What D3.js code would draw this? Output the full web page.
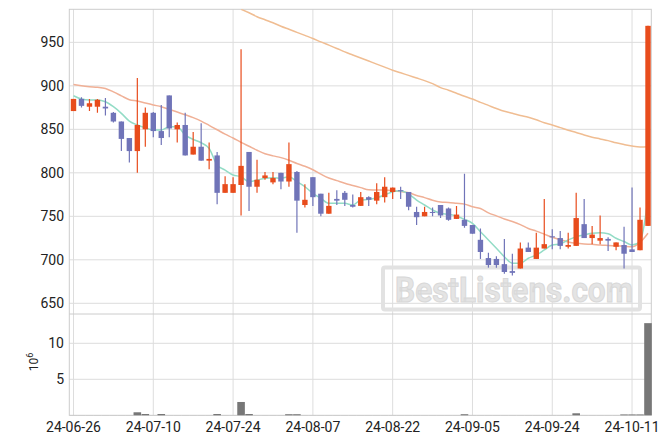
<!DOCTYPE html>
<html><head><meta charset="utf-8">
<script src="https://cdn.jsdelivr.net/npm/d3@7"></script>
<style>body{margin:0;background:#fff;}svg{display:block;font-family:Roboto,"Noto Sans",sans-serif;}</style>
</head><body>
<svg id="c" width="670" height="444"></svg>
<script>
const dates = ["24-06-26","24-06-27","24-06-28","24-07-01","24-07-02","24-07-03","24-07-04","24-07-05","24-07-08","24-07-09",
"24-07-10","24-07-11","24-07-12","24-07-15","24-07-16","24-07-17","24-07-18","24-07-19","24-07-22","24-07-23",
"24-07-24","24-07-25","24-07-26","24-07-29","24-07-30","24-07-31","24-08-01","24-08-02","24-08-05","24-08-06",
"24-08-07","24-08-08","24-08-09","24-08-12","24-08-13","24-08-14","24-08-16","24-08-19","24-08-20","24-08-21",
"24-08-22","24-08-23","24-08-26","24-08-27","24-08-28","24-08-29","24-08-30","24-09-02","24-09-03","24-09-04",
"24-09-05","24-09-06","24-09-09","24-09-10","24-09-11","24-09-12","24-09-13","24-09-19","24-09-20","24-09-23",
"24-09-24","24-09-25","24-09-26","24-09-27","24-09-30","24-10-02","24-10-04","24-10-07","24-10-08","24-10-10",
"24-10-11","24-10-14","24-10-15"];
const open  = [871,885,876,876,876,869,859,840,825,850, 869,848,889,850,855,821,830,814,820,777, 777,786,824,784,794,789,800,790,801,763,
 795,776,753,770,777,763,762,772,768,772, 778,780,778,755,750,755,763,759,747,746, 740,723,702,701,695,687,690,714,701,713,
 727,725,715,716,741,725,722,724,715,717, 712,711,739];
const high  = [885,887,885,885,886,870,859,840,909,875, 870,878,889,858,869,847,857,835,824,796, 795,942,824,815,801,801,800,835,802,787,
 795,776,777,780,779,775,778,773,788,795, 783,784,778,761,761,760,763,760,762,799, 740,736,708,704,724,707,720,720,731,770,
 735,733,731,777,770,739,751,726,720,738, 783,760,969];
const low   = [871,875,871,869,866,858,825,812,800,830, 841,832,841,835,820,821,814,804,764,777, 777,751,756,777,792,787,781,784,731,760,
 762,750,753,763,762,760,762,762,764,766, 770,770,757,740,750,750,748,745,747,737, 730,701,691,691,684,682,690,709,701,713,
 712,712,713,716,725,718,718,710,711,690, 709,711,739];
const close = [885,877,880,884,874,859,839,825,855,869, 848,840,851,855,820,830,814,816,777,787, 787,808,784,792,797,794,790,810,768,769,
 772,753,762,768,769,761,772,769,778,784, 783,779,761,749,755,754,751,746,752,739, 730,709,694,694,686,685,713,709,714,718,
 726,716,717,748,725,729,725,722,720,707, 709,746,969];
const volume = [0.01,0.01,0.01,0.01,0.01,0.01,0.01,0.01,0.42,0.18, 0.01,0.18,0.01,0.01,0.01,0.01,0.01,0.01,0.18,0.01,
 0.01,1.85,0.18,0.01,0.01,0.01,0.01,0.15,0.15,0.01, 0.01,0.01,0.01,0.01,0.01,0.01,0.01,0.01,0.01,0.01,
 0.01,0.01,0.01,0.01,0.01,0.01,0.01,0.01,0.01,0.15, 0.01,0.01,0.01,0.01,0.01,0.01,0.01,0.01,0.01,0.01,
 0.01,0.01,0.01,0.28,0.01,0.01,0.01,0.01,0.01,0.12, 0.12,0.12,12.8];
const maShort = [888.6,884.8,883.7,883.7,881.7,876,868.4,859.5,855,851.8, 849.2,849.2,853,853,843.4,838.5,834.6,828,809,803.2,
 797.5,795.5,789.8,791.7,793.7,794.4,793.7,795.5,789.8,784, 776.4,770.7,764.9,764.9,764.9,763,768.7,769.5,771.4,774.5,
 778.3,779.4,775.6,768.7,763,757.3,753.4,752.3,750.3,746.5, 741.9,732.3,722.8,713.2,703.5,696,696,701.8,705.5,711.3,
 717,718.2,722.8,726.6,728.5,730.5,731,730,724.8,721, 717,721,770.7];
const maMid = [901.5,900,899,898.3,897,893,888.5,884,882.5,880.2, 878,876,873,870,866.8,863.5,859.5,854.5,849.5,844.5,
 840,835,830.5,826,822,819.5,817.5,814.5,810.8,807.5, 803.5,798.5,794,791,788,785.5,783,780.5,780.2,780.2,
 779.5,778.5,777,774,771.5,768.5,766.5,766,765,764, 761,759,754,750.5,747,744,740.5,736,733,729.5,
 726,723,720.5,719,718.2,717.8,717,716.5,716,715.5, 715,720,730.5];
const maLong = [null,null,null,null,null,null,null,null,null,null, null,null,null,null,null,null,null,null,null,null,
 null,988,984,979.5,976,972.5,968.5,965,961.5,958, 954.5,950.5,946.8,943,939,935.5,932,928.5,925,921.5,
 918,915,912,909,906,902.5,898,895,891.5,888, 884.8,881,877.5,874,870.8,868.5,866,864,861,857.5,
 855,852,849,846.3,843.5,841,839,837,834.5,832.5, 830.8,829.8,830];
const priceTicks = [650,700,750,800,850,900,950];
const volTicks = [5,10];
const xTickLabels = ["24-06-26","24-07-10","24-07-24","24-08-07","24-08-22","24-09-05","24-09-24","24-10-11"];

const svg = d3.select("#c");
const L = 69.3, R = 651.3, T = 9.3, MID = 314, B = 415.3;
const x = d3.scalePoint().domain(dates).range([73.5, 648]);
const y = d3.scaleLinear().domain([637.7, 988]).range([MID, T]);
const yv = d3.scaleLinear().domain([0, 14.07]).range([B, MID]);
const grid = "#dddddd", spine = "#cccccc";
const UP = "#e84c1c", DOWN = "#7074b8";

svg.append("defs").append("clipPath").attr("id","cp").append("rect")
  .attr("x",L).attr("y",T).attr("width",R-L).attr("height",MID-T);

// grids
const g = svg.append("g");
g.selectAll(".hg").data(priceTicks).join("line")
  .attr("x1",L).attr("x2",R).attr("y1",d=>y(d)).attr("y2",d=>y(d)).attr("stroke",grid);
g.selectAll(".vg").data(volTicks).join("line")
  .attr("x1",L).attr("x2",R).attr("y1",d=>yv(d)).attr("y2",d=>yv(d)).attr("stroke",grid);
g.selectAll(".xg").data(xTickLabels).join("line")
  .attr("x1",d=>x(d)).attr("x2",d=>x(d)).attr("y1",T).attr("y2",B).attr("stroke",grid);

// watermark
const wm = svg.append("g");
wm.append("rect").attr("x",383).attr("y",267.5).attr("width",257).attr("height",42).attr("rx",2)
  .attr("fill","none").attr("stroke","#e2e2e2").attr("stroke-width",4);
wm.append("text").attr("x",395).attr("y",302).attr("font-size",35).attr("font-weight","bold")
  .attr("textLength",238).attr("lengthAdjust","spacingAndGlyphs")
  .attr("fill","#e4e4e4").attr("stroke","#d8d8d8").attr("stroke-width",1).text("BestListens.com");

// spines
const sp = svg.append("g").attr("stroke",spine).attr("fill","none");
sp.append("rect").attr("x",L).attr("y",T).attr("width",R-L).attr("height",B-T);
sp.append("line").attr("x1",L).attr("x2",R).attr("y1",MID).attr("y2",MID);

// price panel
const pp = svg.append("g").attr("clip-path","url(#cp)");
const line = d3.line().defined(d=>d.v!=null).x(d=>x(d.d)).y(d=>y(d.v)).curve(d3.curveMonotoneX);
const mk = arr => arr.map((v,i)=>({d:dates[i], v}));
pp.append("path").attr("d",line(mk(maLong))).attr("fill","none").attr("stroke","#f0bd92").attr("stroke-width",1.5);
pp.append("path").attr("d",line(mk(maMid))).attr("fill","none").attr("stroke","#f0b096").attr("stroke-width",1.5);
pp.append("path").attr("d",line(mk(maShort))).attr("fill","none").attr("stroke","#93dcc6").attr("stroke-width",1.5);

const candles = dates.map((d,i)=>({d,o:open[i],h:high[i],l:low[i],c:close[i]}));
const cg = pp.selectAll(".cd").data(candles).join("g");
cg.append("line").attr("x1",d=>x(d.d)).attr("x2",d=>x(d.d)).attr("y1",d=>y(d.h)).attr("y2",d=>y(d.l))
  .attr("stroke",d=>d.c>=d.o?UP:DOWN).attr("stroke-width",1.2);
cg.append("rect").attr("x",d=>x(d.d)-2.7).attr("width",5.4)
  .attr("y",d=>y(Math.max(d.o,d.c))).attr("height",d=>Math.max(1,Math.abs(y(d.o)-y(d.c))))
  .attr("fill",d=>d.c>=d.o?UP:DOWN);

// volume
svg.append("g").selectAll("rect").data(dates).join("rect")
  .attr("x",d=>x(d)-3.8).attr("width",7.6)
  .attr("y",(d,i)=>yv(volume[i])).attr("height",(d,i)=>B-yv(volume[i]))
  .attr("fill","#777777");

// labels
const lab = svg.append("g").attr("font-size",14).attr("fill","#222");
lab.selectAll(".py").data(priceTicks).join("text").attr("x",64).attr("y",d=>y(d)).attr("dy","0.36em")
  .attr("text-anchor","end").text(d=>d);
lab.selectAll(".vy").data(volTicks).join("text").attr("x",64).attr("y",d=>yv(d)).attr("dy","0.36em")
  .attr("text-anchor","end").text(d=>d);
lab.selectAll(".xl").data(xTickLabels).join("text").attr("x",d=>x(d)).attr("y",431.5)
  .attr("text-anchor","middle").text(d=>d);
const ut = svg.append("text").attr("transform","translate(38,362) rotate(-90)").attr("text-anchor","middle")
  .attr("font-size",12).attr("fill","#222");
ut.append("tspan").text("10");
ut.append("tspan").attr("dy",-5).attr("font-size",9).text("6");
</script>
</body></html>
